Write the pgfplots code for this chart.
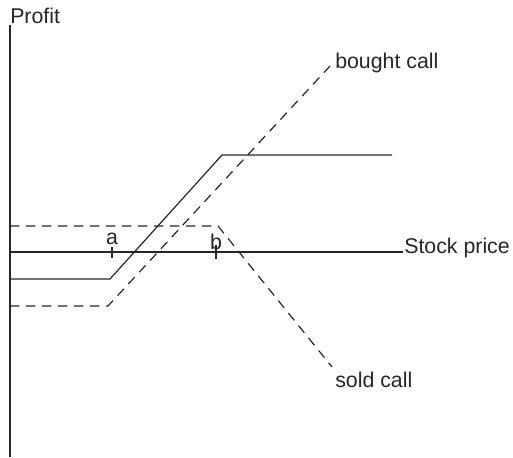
\documentclass[border=0pt]{standalone}
\usepackage{fontspec}
\setmainfont{Liberation Sans}
\usepackage{pgfplots}
\pgfplotsset{compat=1.18}
\begin{document}
\begin{tikzpicture}
\useasboundingbox (0,0) rectangle (384.75pt,342.75pt);
\begin{axis}[
  at={(0,0)}, anchor=south west,
  scale only axis, width=384.75pt, height=342.75pt,
  xmin=0, xmax=513, ymin=0, ymax=457,
  hide axis, clip=false,
  ln/.style={line width=0.9pt, color=black!85, mark=none},
  dl/.style={ln, dash pattern=on 7pt off 5pt},
  nodes={font=\fontsize{16}{19}\selectfont, text=black!85, inner sep=0pt},
]
% axes drawn as lines
\addplot[ln] coordinates {(10,432) (10,0)};
\addplot[ln] coordinates {(10,205) (403,205)};
% bull spread (solid)
\addplot[ln] coordinates {(10,178) (110,178) (222,302) (392,302)};
% bought call (dashed)
\addplot[dl] coordinates {(10,151) (108,151) (330,391)};
% sold call (dashed)
\addplot[dl] coordinates {(10,231) (218,231) (332,90)};
% ticks at a and b
\addplot[ln] coordinates {(112,210) (112,199)};
\addplot[ln] coordinates {(216,212) (216,198)};
% labels
\node[anchor=base west] at (axis cs:10,433) {Profit};
\node[anchor=base west] at (axis cs:335,388) {bought call};
\node[anchor=base west] at (axis cs:404,204) {Stock price};
\node[anchor=base west] at (axis cs:335,70) {sold call};
\node[anchor=base] at (axis cs:112,212) {a};
\node[anchor=base] at (axis cs:216,207) {b};
\end{axis}
\end{tikzpicture}
\end{document}
